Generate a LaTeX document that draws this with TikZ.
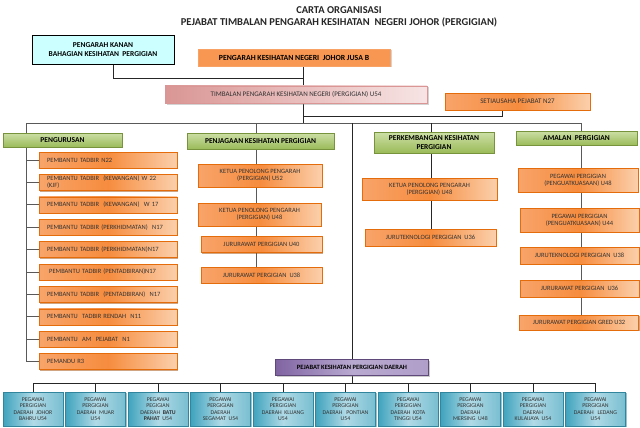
\documentclass[tikz,border=0pt]{standalone}
\usepackage{fontspec}
\setmainfont{Carlito}
\usepackage{tikz}
\usetikzlibrary{positioning,shadows,backgrounds}
\definecolor{orgdark}{HTML}{E46C0A}
\definecolor{orgmid}{HTML}{F68C3E}
\definecolor{orgleft}{HTML}{F8A46A}
\definecolor{orglight}{HTML}{FBD0AC}
\definecolor{grnlight}{HTML}{CCDFA6}
\definecolor{grndark}{HTML}{9BBB59}
\definecolor{grnline}{HTML}{77933C}
\definecolor{pinkdark}{HTML}{D99694}
\definecolor{pinklight}{HTML}{F7E4E4}
\definecolor{purpdark}{HTML}{8064A2}
\definecolor{purplight}{HTML}{B8A9D0}
\definecolor{purpline}{HTML}{5F497A}
\definecolor{tealdark}{HTML}{3FA3BD}
\definecolor{teallight}{HTML}{B0DAE6}
\definecolor{tealline}{HTML}{31859C}
\definecolor{kananfill}{HTML}{CCFFFF}

\begin{document}
\begin{tikzpicture}[x=1pt,y=-1pt,
  sz/.style 2 args={minimum width=#1pt, minimum height=#2pt},
  txt/.style={font=\fontsize{6.5}{7}\selectfont, text=black!80},
  box/.style={draw, inner sep=1pt, align=center, txt},
  orangebox/.style={box, draw=orgdark, left color=orgleft, right color=orglight, middle color=orgmid,
    drop shadow={shadow xshift=1pt, shadow yshift=-1.2pt, fill=orgdark!70!black, opacity=0.5}},
  leftbox/.style={orangebox, align=left, text width=122pt, inner xsep=8pt, minimum height=16pt},
  hdrbox/.style={box, draw=grnline, top color=grnlight, bottom color=grndark, text=black,
    font=\bfseries\fontsize{7.5}{8.5}\selectfont,
    drop shadow={shadow xshift=1pt, shadow yshift=-1.2pt, fill=gray, opacity=0.4}},
  tealbox/.style={box, draw=tealline, left color=tealdark, right color=tealdark!70!white, middle color=teallight,
    sz={60}{34}, font=\fontsize{5.8}{6.5}\selectfont,
    drop shadow={shadow xshift=1pt, shadow yshift=-1.2pt, fill=tealline, opacity=0.5}},
  title/.style={font=\bfseries\fontsize{10.5}{12}\selectfont, text=black!85},
  link/.style={draw=gray!70!black, line width=0.8pt},
  linkb/.style={draw=black!85, line width=0.8pt}]

  \useasboundingbox (0,0) rectangle (640,428);

  % ======= heading =======
  \node[title] (t1) at (339,10) {CARTA ORGANISASI};
  \node[title] (t2) at (339,22) {PEJABAT TIMBALAN PENGARAH KESIHATAN\ \ NEGERI JOHOR (PERGIGIAN)};

  % ======= top level =======
  \node[box, draw=black, line width=0.8pt, fill=kananfill, text=black, sz={142}{29},
    font=\bfseries\fontsize{7.5}{8.5}\selectfont] (kanan) at (103,49.5)
    {PENGARAH KANAN\\BAHAGIAN KESIHATAN\ \ PERGIGIAN};
  \node[box, draw=orgmid!80!white, fill=orgmid!90!white, text=black, sz={192}{17},
    font=\bfseries\fontsize{7.8}{9}\selectfont,
    drop shadow={shadow xshift=1.5pt, shadow yshift=-1.5pt, fill=gray, opacity=0.35}] (jusa) at (294,57.5)
    {PENGARAH KESIHATAN NEGERI\ \ JOHOR JUSA B};
  \node[box, draw=pinkdark, left color=pinkdark, right color=pinklight, sz={262}{17},
    font=\fontsize{7}{8}\selectfont,
    drop shadow={shadow xshift=1.5pt, shadow yshift=-1.5pt, fill=gray, opacity=0.35}] (timb) at (296,94.5)
    {TIMBALAN PENGARAH KESIHATAN NEGERI (PERGIGIAN) U54};
  \node[orangebox, sz={145}{17}, font=\fontsize{7}{8}\selectfont] (setia) at (517.5,101.5)
    {SETIAUSAHA PEJABAT N27};

  \coordinate (top) at (303,78);
  \coordinate (sec) at (303,116);
  \coordinate (bus) at (303,123);
  \coordinate (busl) at (26,123);
  \coordinate (busr) at (581,123);

  % ======= column headers =======
  \node[hdrbox, sz={119}{14}] (hurus) at (62.5,140) {PENGURUSAN};
  \node[hdrbox, sz={147}{16}] (hjaga) at (260.5,141) {PENJAGAAN KESIHATAN PERGIGIAN};
  \node[hdrbox, sz={120}{21}] (hkemb) at (434,142.5) {PERKEMBANGAN KESIHATAN\\PERGIGIAN};
  \node[hdrbox, sz={121}{14}] (hamal) at (576.5,138) {AMALAN\ \ PERGIGIAN};

  % Pengurusan
  \foreach \t [count=\i] in {PEMBANTU TADBIR N22,
      {PEMBANTU TADBIR\ \ (KEWANGAN) W 22\\(KJF)},
      PEMBANTU TADBIR\ \ (KEWANGAN)\ \ W 17,
      PEMBANTU TADBIR (PERKHIDMATAN)\ \ N17,
      PEMBANTU TADBIR (PERKHIDMATAN)N17,
      \ PEMBANTU TADBIR (PENTADBIRAN)N17,
      PEMBANTU TADBIR\ \ (PENTADBIRAN)\ \ N17,
      PEMBANTU\ \ TADBIR RENDAH\ \ N11,
      PEMBANTU\ \ AM\ \ PEJABAT\ \ N1,
      PEMANDU R3}
    \node[leftbox] (urus\i) at (108,{160+(\i-1)*22.4}) {\t};

  % Penjagaan
  \node[orangebox, sz={124}{23}] (jaga1) at (260,175.5) {KETUA PENOLONG PENGARAH\\(PERGIGIAN) U52};
  \node[orangebox, sz={123}{23}] (jaga2) at (259.5,214.5) {KETUA PENOLONG PENGARAH\\(PERGIGIAN) U48};
  \node[orangebox, sz={121}{16}] (jaga3) at (261.5,244.5) {JURURAWAT PERGIGIAN U40};
  \node[orangebox, sz={121}{16}] (jaga4) at (261.5,275) {JURURAWAT PERGIGIAN\ \ U38};

  % Perkembangan
  \node[orangebox, sz={135}{22}] (kemb1) at (429.5,189) {KETUA PENOLONG PENGARAH\\(PERGIGIAN) U48};
  \node[orangebox, sz={131}{17}] (kemb2) at (430.5,237.5) {JURUTEKNOLOGI PERGIGIAN\ \ U36};

  % Amalan
  \node[orangebox, sz={120}{24}] (amal1) at (578,180) {PEGAWAI PERGIGIAN\\(PENGUATKUASAAN) U48};
  \node[orangebox, sz={119}{24}] (amal2) at (579.5,220) {PEGAWAI PERGIGIAN\\(PENGUATKUASAAN) U44};
  \node[orangebox, sz={119}{17}] (amal3) at (579.5,255.5) {JURUTEKNOLOGI PERGIGIAN\ \ U38};
  \node[orangebox, sz={119}{17}] (amal4) at (579.5,288.5) {JURURAWAT PERGIGIAN\ \ U36};
  \node[orangebox, sz={119}{15}] (amal5) at (579,322.5) {JURURAWAT PERGIGIAN GRED U32};

  % ======= district level =======
  \node[box, draw=purpline, left color=purpdark, right color=purplight!85!purpdark, middle color=purplight,
    sz={153}{16}, text=black, font=\bfseries\fontsize{6.5}{7.5}\selectfont,
    drop shadow={shadow xshift=1.5pt, shadow yshift=-1.5pt, fill=gray, opacity=0.4}] (daerah) at (352,367)
    {PEJABAT KESIHATAN PERGIGIAN DAERAH};

  \foreach \t [count=\i] in {
      {PEGAWAI\\PERGIGIAN\\DAERAH\ \ JOHOR\\BAHRU U54},
      {PEGAWAI\\PERGIGIAN\\DAERAH\ \ MUAR\\U54},
      {PEGAWAI\\PEGIGIAN\\DAERAH\ \ \textbf{BATU}\\\textbf{PAHAT}\ \ U54},
      {PEGAWAI\\PERGIGIAN\\DAERAH\\SEGAMAT\ \ U54},
      {PEGAWAI\\PERGIGIAN\\DAERAH\ \ KLUANG\\U54},
      {PEGAWAI\\PERGIGIAN\\DAERAH\ \ \ PONTIAN\\U54},
      {PEGAWAI\\PERGIGIAN\\DAERAH\ \ KOTA\\TINGGI U54},
      {PEGAWAI\\PERGIGIAN\\DAERAH\\MERSING\ \ U48},
      {PEGAWAI\\PERGIGIAN\\DAERAH\\KULAIJAYA\ \ U54},
      {PEGAWAI\\PERGIGIAN\\DAERAH\ \ \ LEDANG\\U54}}
    \node[tealbox] (pg\i) at ({33+(\i-1)*62.5},409) {\t};

  \coordinate (dbus) at (352,383);

  % ======= connectors =======
  \begin{scope}[on background layer]
    \draw[linkb] ([xshift=10pt]kanan.south) |- (top);
    \draw[linkb] (jusa.south -| top) -- (timb.north -| top);
    \draw[linkb] (timb.south -| top) -- (bus);
    \draw[linkb] (sec) -| ([xshift=-15pt]setia.south);
    \draw[link] (busl) -- (busr);
    % columns
    \draw[link] (busl) -- (busl |- urus10.west);
    \foreach \i in {1,...,10}
      \draw[link] (busl |- urus\i.west) -- (urus\i.west);
    \draw[link] (bus -| 256,0) -- (jaga4.north -| 256,0);
    \draw[linkb] (bus -| 431,0) -- (kemb2.north -| 431,0);
    \draw[link] (busr) -- (amal5.north -| busr);
    % district
    \draw[linkb] (bus -| daerah.north) -- (daerah.north);
    \draw[linkb] (daerah.south) -- (dbus);
    \draw[linkb] (pg1.north |- dbus) -- (pg10.north |- dbus);
    \foreach \i in {1,...,10}
      \draw[linkb] (pg\i.north |- dbus) -- (pg\i.north);
  \end{scope}
\end{tikzpicture}
\end{document}
